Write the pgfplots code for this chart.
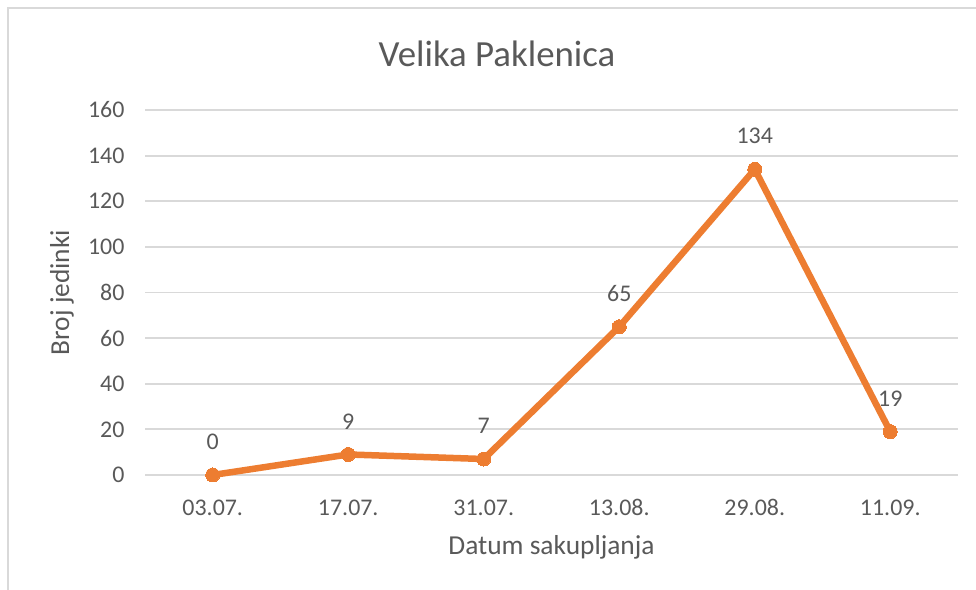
\documentclass[border=0pt]{standalone}
\usepackage{pgfplots}
\pgfplotsset{compat=1.18}
\usepackage{fontspec}
\setmainfont{Carlito}
\definecolor{excelorange}{HTML}{ED7D31}
\definecolor{gridgray}{HTML}{D9D9D9}
\definecolor{textgray}{HTML}{595959}
\begin{document}
\begin{tikzpicture}[x=1bp,y=1bp]
\path[use as bounding box] (0,0) rectangle (976,590);
\draw[gridgray, line width=2bp] (8,0) -- (8,582) -- (976,582);
\begin{axis}[
  at={(145bp,115bp)}, anchor=south west, scale only axis,
  width=813bp, height=365bp,
  xmin=-0.5, xmax=5.5, ymin=0, ymax=160,
  clip=false,
  axis line style={draw=none}, tick style={draw=none},
  ymajorgrids, grid style={gridgray, line width=1.8bp},
  ytick={0,20,...,160},
  xtick={0,...,5},
  xticklabels={03.07.,17.07.,31.07.,13.08.,29.08.,11.09.},
  /pgf/number format/assume math mode=true,
  ticklabel style={font=\fontsize{24}{29}\selectfont, text=textgray},
  yticklabel style={xshift=-17bp},
  xticklabel style={yshift=-21bp},
  title={Velika Paklenica},
  title style={at={(rel axis cs:0.433,1.137)}, anchor=center,
    font=\fontsize{37}{44}\selectfont, text=textgray},
  xlabel={Datum sakupljanja},
  xlabel style={at={(rel axis cs:0.5,-0.197)}, anchor=center,
    font=\fontsize{27.5}{33}\selectfont, text=textgray},
  ylabel={Broj jedinki},
  ylabel style={at={(rel axis cs:-0.102,0.5)}, anchor=center,
    font=\fontsize{27.5}{33}\selectfont, text=textgray},
  nodes near coords,
  every node near coord/.append style={anchor=center, yshift=33bp,
    font=\fontsize{24}{29}\selectfont, text=textgray},
]
\addplot[excelorange, line width=6.5bp, mark=*, mark size=7bp,
  mark options={fill=excelorange, draw=excelorange, line width=0pt}]
  coordinates {(0,0) (1,9) (2,7) (3,65) (4,134) (5,19)};
\end{axis}
\end{tikzpicture}
\end{document}
